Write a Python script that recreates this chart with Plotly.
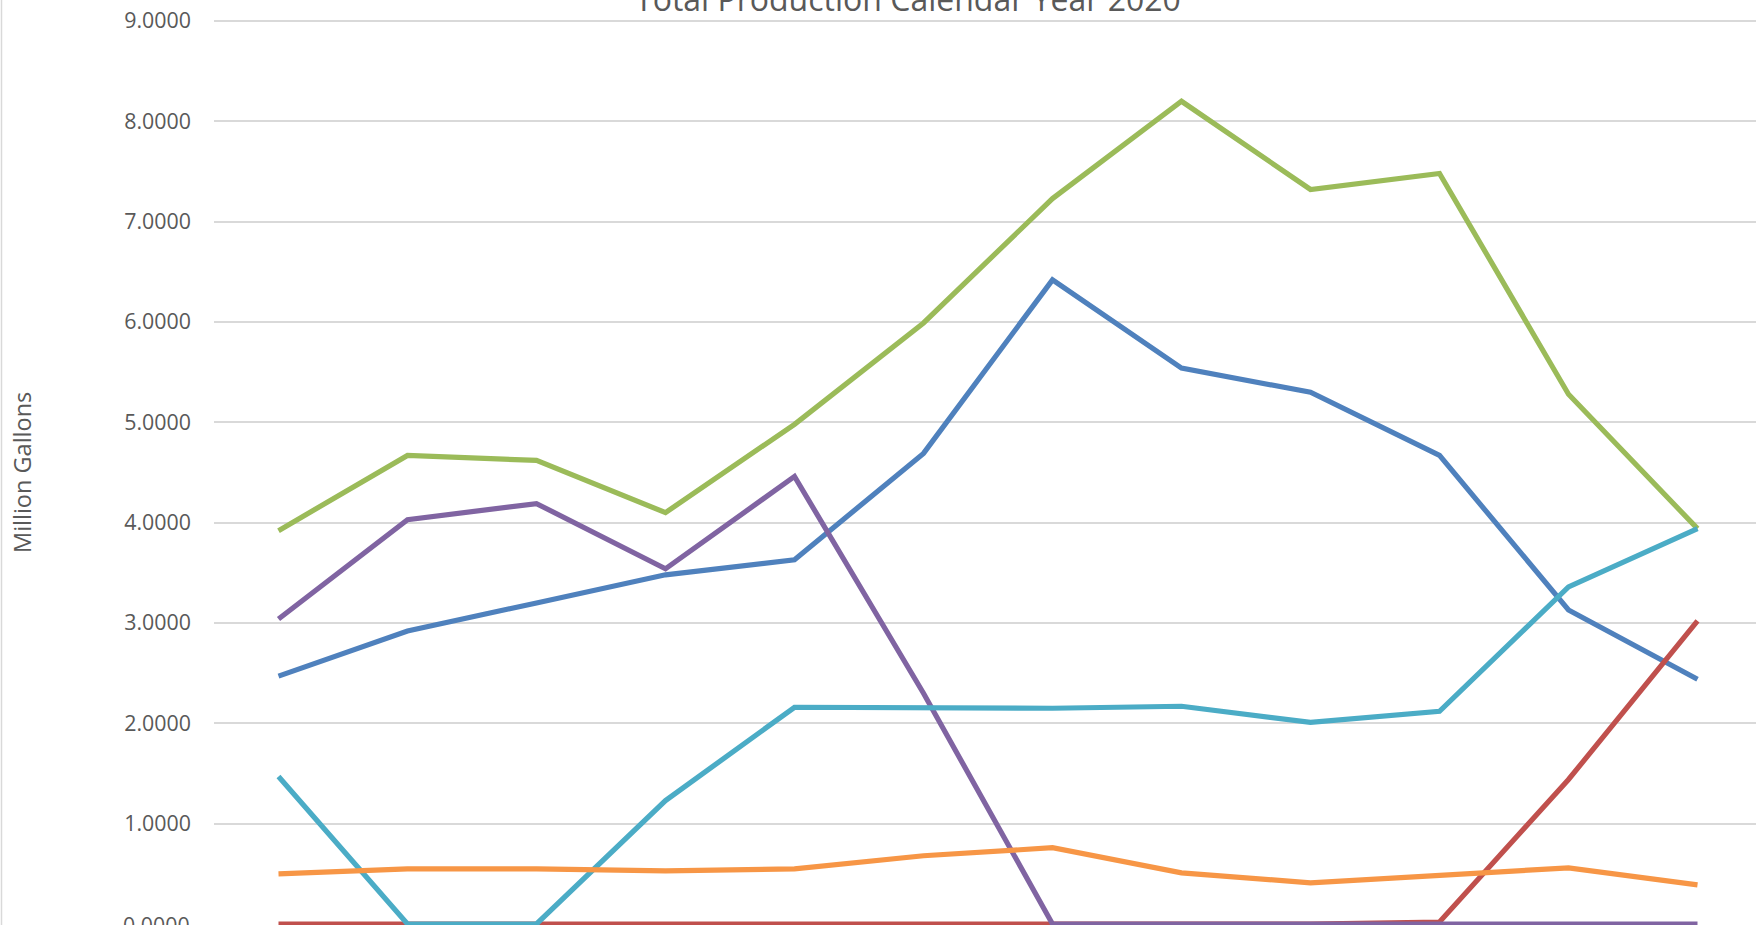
import plotly.graph_objects as go

months = ["Jan", "Feb", "Mar", "Apr", "May", "Jun", "Jul", "Aug", "Sep", "Oct", "Nov", "Dec"]

series_names = ["Well 1", "Well 2", "Total", "Well 3", "Well 4", "Well 5"]
blue_vals = [2.47, 2.92, 3.20, 3.48, 3.63, 4.69, 6.42, 5.54, 5.30, 4.67, 3.13, 2.44]
red_vals = [0.0, 0.0, 0.0, 0.0, 0.0, 0.0, 0.0, 0.0, 0.0, 0.02, 1.44, 3.02]
green_vals = [3.92, 4.67, 4.62, 4.10, 4.98, 5.99, 7.23, 8.20, 7.32, 7.48, 5.28, 3.94]
purple_vals = [3.04, 4.03, 4.19, 3.54, 4.46, 2.30, 0.0, 0.0, 0.0, 0.0, 0.0, 0.0]
cyan_vals = [1.47, 0.0, 0.0, 1.23, 2.16, 2.15, 2.15, 2.17, 2.01, 2.12, 3.36, 3.94]
orange_vals = [0.50, 0.55, 0.55, 0.53, 0.55, 0.68, 0.76, 0.51, 0.41, 0.48, 0.56, 0.39]

colors = ["#4F81BD", "#C0504D", "#9BBB59", "#8064A2", "#4BACC6", "#F79646"]
all_vals = [blue_vals, red_vals, green_vals, purple_vals, cyan_vals, orange_vals]

title_text = "Total Production Calendar Year 2020"
y_title = "Million Gallons"
zero_label = "0.0000"

W, H = 1756, 925
ML = 214
PW = W - ML
CAT_W = 129.0
Y_TOP_PX = 21.0          # pixel row of the 9.0 gridline
Y_ZERO_PX = 926.0        # pixel row of the 0 baseline (just below the bottom edge)
PX_PER_UNIT = (Y_ZERO_PX - Y_TOP_PX) / 9.0
Y_LOW = -(Y_ZERO_PX - H) / PX_PER_UNIT
Y_HIGH = 9 + Y_TOP_PX / PX_PER_UNIT

fig = go.Figure()
for name, vals, col in zip(series_names, all_vals, colors):
    fig.add_trace(go.Scatter(
        x=months, y=vals, mode="lines", name=name,
        line=dict(color=col, width=5.2),
    ))

font_family = "Open Sans"
tick_font = dict(size=21.4, color="#595959", family=font_family)
fig.update_layout(
    width=W, height=H,
    margin=dict(l=ML, r=0, t=0, b=0, pad=0),
    paper_bgcolor="white", plot_bgcolor="white",
    showlegend=False,
    font=dict(family=font_family, color="#595959"),
    xaxis=dict(
        type="category",
        range=[-0.5, -0.5 + PW / CAT_W],
        showgrid=False, zeroline=False,
        showline=False,
        showticklabels=False, ticks="",
        automargin=False,
    ),
    yaxis=dict(
        range=[Y_LOW, Y_HIGH],
        dtick=1, tick0=0, tickformat=".4f",
        showgrid=True, gridcolor="#d9d9d9", gridwidth=2,
        zeroline=False, showline=False, ticks="",
        tickfont=tick_font,
        ticklabelstandoff=22,
        automargin=False,
    ),
    annotations=[
        dict(text=title_text, xref="paper", yref="paper",
             x=(908 - ML) / PW, y=1 + 2.0 / H, xanchor="center", yanchor="middle",
             showarrow=False, font=dict(size=32, color="#595959", family=font_family)),
        dict(text=y_title, xref="paper", yref="paper",
             x=(22 - ML) / PW, y=1 - 473 / H, xanchor="center", yanchor="middle",
             textangle=-90, showarrow=False,
             font=dict(size=23.5, color="#595959", family=font_family)),
        dict(text=zero_label, xref="paper", yref="y",
             x=(192 - ML) / PW, y=0, xanchor="right", yanchor="middle",
             showarrow=False, font=tick_font),
    ],
    shapes=[
        dict(type="line", xref="paper", yref="paper",
             x0=(1.5 - ML) / PW, x1=(1.5 - ML) / PW, y0=0, y1=1,
             line=dict(color="#d9d9d9", width=1.5)),
    ],
)

fig.write_html(
    "out.html",
    config={"displayModeBar": False},
    post_script="document.body.style.margin='0';document.body.style.padding='0';",
)
